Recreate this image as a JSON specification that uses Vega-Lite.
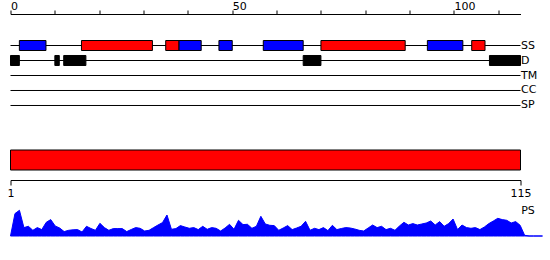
{
  "$schema": "https://vega.github.io/schema/vega-lite/v6.json",
  "background": "white",
  "padding": {"left": 6.5, "top": 0, "right": 0, "bottom": 0},
  "spacing": 13,
  "bounds": "flush",
  "config": {
    "view": {"stroke": null},
    "font": "DejaVu Sans",
    "axis": {"labelFont": "DejaVu Sans", "labelColor": "black", "domainColor": "black", "tickColor": "black", "grid": false, "labelFontSize": 11}
  },
  "datasets": {
    "tracks": [
      {"track": "SS", "start": 0, "end": 115},
      {"track": "D", "start": 0, "end": 115},
      {"track": "TM", "start": 0, "end": 115},
      {"track": "CC", "start": 0, "end": 115},
      {"track": "SP", "start": 0, "end": 115}
    ],
    "features": [
      {"track": "SS", "type": "strand", "start": 2, "end": 8},
      {"track": "SS", "type": "helix", "start": 16, "end": 32},
      {"track": "SS", "type": "helix", "start": 35, "end": 38},
      {"track": "SS", "type": "strand", "start": 38, "end": 43},
      {"track": "SS", "type": "strand", "start": 47, "end": 50},
      {"track": "SS", "type": "strand", "start": 57, "end": 66},
      {"track": "SS", "type": "helix", "start": 70, "end": 89},
      {"track": "SS", "type": "strand", "start": 94, "end": 102},
      {"track": "SS", "type": "helix", "start": 104, "end": 107},
      {"track": "D", "type": "disorder", "start": 0, "end": 2},
      {"track": "D", "type": "disorder", "start": 10, "end": 11},
      {"track": "D", "type": "disorder", "start": 12, "end": 17},
      {"track": "D", "type": "disorder", "start": 66, "end": 70},
      {"track": "D", "type": "disorder", "start": 108, "end": 115}
    ],
    "protein": [{"start": 1, "end": 115}],
    "profile": [
      {"pos": 1, "ps": 0}, {"pos": 2, "ps": 22.4}, {"pos": 3, "ps": 25.7}, {"pos": 4, "ps": 8.4}, {"pos": 5, "ps": 9.7},
      {"pos": 6, "ps": 5.7}, {"pos": 7, "ps": 8.4}, {"pos": 8, "ps": 6.4}, {"pos": 9, "ps": 13.7}, {"pos": 10, "ps": 16.4},
      {"pos": 11, "ps": 10}, {"pos": 12, "ps": 8}, {"pos": 13, "ps": 4.4}, {"pos": 14, "ps": 5.7}, {"pos": 15, "ps": 6.2},
      {"pos": 16, "ps": 6.4}, {"pos": 17, "ps": 4}, {"pos": 18, "ps": 9.7}, {"pos": 19, "ps": 7.5}, {"pos": 20, "ps": 5.7},
      {"pos": 21, "ps": 12.7}, {"pos": 22, "ps": 8.4}, {"pos": 23, "ps": 5.7}, {"pos": 24, "ps": 7.4}, {"pos": 25, "ps": 7.4},
      {"pos": 26, "ps": 7.4}, {"pos": 27, "ps": 4.4}, {"pos": 28, "ps": 6.5}, {"pos": 29, "ps": 8.4}, {"pos": 30, "ps": 7.7},
      {"pos": 31, "ps": 5}, {"pos": 32, "ps": 5.7}, {"pos": 33, "ps": 8.4}, {"pos": 34, "ps": 11}, {"pos": 35, "ps": 13.4},
      {"pos": 36, "ps": 21}, {"pos": 37, "ps": 6.7}, {"pos": 38, "ps": 7.4}, {"pos": 39, "ps": 10.4}, {"pos": 40, "ps": 9},
      {"pos": 41, "ps": 7.7}, {"pos": 42, "ps": 8.4}, {"pos": 43, "ps": 6.4}, {"pos": 44, "ps": 9.7}, {"pos": 45, "ps": 6.7},
      {"pos": 46, "ps": 8.4}, {"pos": 47, "ps": 7.7}, {"pos": 48, "ps": 5}, {"pos": 49, "ps": 8}, {"pos": 50, "ps": 11.7},
      {"pos": 51, "ps": 6.7}, {"pos": 52, "ps": 15.7}, {"pos": 53, "ps": 11.4}, {"pos": 54, "ps": 11.7}, {"pos": 55, "ps": 7.7},
      {"pos": 56, "ps": 9.7}, {"pos": 57, "ps": 19.7}, {"pos": 58, "ps": 12}, {"pos": 59, "ps": 10.7}, {"pos": 60, "ps": 10.4},
      {"pos": 61, "ps": 5.7}, {"pos": 62, "ps": 8}, {"pos": 63, "ps": 10.4}, {"pos": 64, "ps": 6.4}, {"pos": 65, "ps": 8},
      {"pos": 66, "ps": 9.7}, {"pos": 67, "ps": 14.7}, {"pos": 68, "ps": 5.7}, {"pos": 69, "ps": 7.7}, {"pos": 70, "ps": 6.4},
      {"pos": 71, "ps": 8.4}, {"pos": 72, "ps": 5.4}, {"pos": 73, "ps": 10.7}, {"pos": 74, "ps": 6.4}, {"pos": 75, "ps": 7.5},
      {"pos": 76, "ps": 8.4}, {"pos": 77, "ps": 8}, {"pos": 78, "ps": 7}, {"pos": 79, "ps": 5.7}, {"pos": 80, "ps": 5},
      {"pos": 81, "ps": 8}, {"pos": 82, "ps": 11}, {"pos": 83, "ps": 8.4}, {"pos": 84, "ps": 9.7}, {"pos": 85, "ps": 6.4},
      {"pos": 86, "ps": 7.7}, {"pos": 87, "ps": 5.7}, {"pos": 88, "ps": 10}, {"pos": 89, "ps": 13.7}, {"pos": 90, "ps": 11},
      {"pos": 91, "ps": 12.4}, {"pos": 92, "ps": 11}, {"pos": 93, "ps": 12}, {"pos": 94, "ps": 13}, {"pos": 95, "ps": 15},
      {"pos": 96, "ps": 11}, {"pos": 97, "ps": 14.4}, {"pos": 98, "ps": 9.7}, {"pos": 99, "ps": 12.4}, {"pos": 100, "ps": 17},
      {"pos": 101, "ps": 6.4}, {"pos": 102, "ps": 11}, {"pos": 103, "ps": 8.4}, {"pos": 104, "ps": 7.7}, {"pos": 105, "ps": 8.4},
      {"pos": 106, "ps": 6.4}, {"pos": 107, "ps": 9}, {"pos": 108, "ps": 12.4}, {"pos": 109, "ps": 15}, {"pos": 110, "ps": 17.7},
      {"pos": 111, "ps": 16.4}, {"pos": 112, "ps": 15.7}, {"pos": 113, "ps": 13}, {"pos": 114, "ps": 14.4}, {"pos": 115, "ps": 10.7},
      {"pos": 116, "ps": 0.7}, {"pos": 117, "ps": 0}, {"pos": 118, "ps": 0}, {"pos": 119, "ps": 0}, {"pos": 120, "ps": 0}
    ]
  },
  "vconcat": [
    {
      "width": 510,
      "height": 123,
      "layer": [
        {
          "data": {"name": "tracks"},
          "mark": {"type": "rule", "color": "black", "strokeWidth": 1},
          "encoding": {
            "y": {
              "field": "track", "type": "nominal", "bandPosition": 0.5,
              "scale": {"type": "band", "domain": ["SS", "D", "TM", "CC", "SP"], "range": [26.5, 96.5], "paddingInner": 0.3333, "paddingOuter": 0},
              "axis": {"orient": "right", "title": null, "domain": false, "ticks": false, "labelPadding": 0, "labelFontSize": 11}
            },
            "x": {
              "field": "start", "type": "quantitative",
              "scale": {"domain": [0, 115], "nice": false, "zero": false},
              "axis": {
                "orient": "top", "title": null,
                "values": [0, 10, 20, 30, 40, 50, 60, 70, 80, 90, 100, 110],
                "labelExpr": "datum.value % 50 === 0 ? datum.label : ''",
                "tickSize": 4, "labelAlign": "left", "labelPadding": -1, "labelFlush": false, "labelOverlap": false
              }
            },
            "x2": {"field": "end"}
          }
        },
        {
          "data": {"name": "features"},
          "mark": {"type": "rect", "stroke": "black", "strokeWidth": 1},
          "encoding": {
            "y": {"field": "track", "type": "nominal"},
            "x": {"field": "start", "type": "quantitative"},
            "x2": {"field": "end"},
            "color": {
              "field": "type", "type": "nominal", "legend": null,
              "scale": {"domain": ["helix", "strand", "disorder"], "range": ["#ff0000", "#0000ff", "#000000"]}
            }
          }
        }
      ]
    },
    {
      "width": 510,
      "height": 20,
      "data": {"name": "protein"},
      "mark": {"type": "rect", "fill": "#ff0000", "stroke": "black", "strokeWidth": 1},
      "encoding": {
        "x": {
          "field": "start", "type": "quantitative",
          "scale": {"domain": [1, 115], "nice": false, "zero": false},
          "axis": {"orient": "bottom", "title": null, "values": [1, 115], "offset": 10, "tickSize": 5, "labelPadding": 2, "labelFlush": false, "labelOverlap": false}
        },
        "x2": {"field": "end"}
      }
    },
    {
      "width": 532,
      "height": 53,
      "layer": [
        {
          "data": {"name": "profile"},
          "mark": {"type": "area", "color": "#0000ff", "stroke": "#0000ff", "strokeWidth": 1},
          "encoding": {
            "x": {"field": "pos", "type": "quantitative", "scale": {"domain": [1, 120], "nice": false, "zero": false}, "axis": null},
            "y": {"field": "ps", "type": "quantitative", "scale": {"domain": [0, 53], "nice": false}, "axis": null}
          }
        },
        {
          "data": {"values": [{}]},
          "mark": {"type": "text", "text": "PS", "align": "left", "baseline": "middle", "dx": 1, "fontSize": 11, "color": "black", "font": "DejaVu Sans"},
          "encoding": {
            "x": {"datum": 115, "type": "quantitative"},
            "y": {"datum": 25.5, "type": "quantitative"}
          }
        }
      ]
    }
  ]
}
